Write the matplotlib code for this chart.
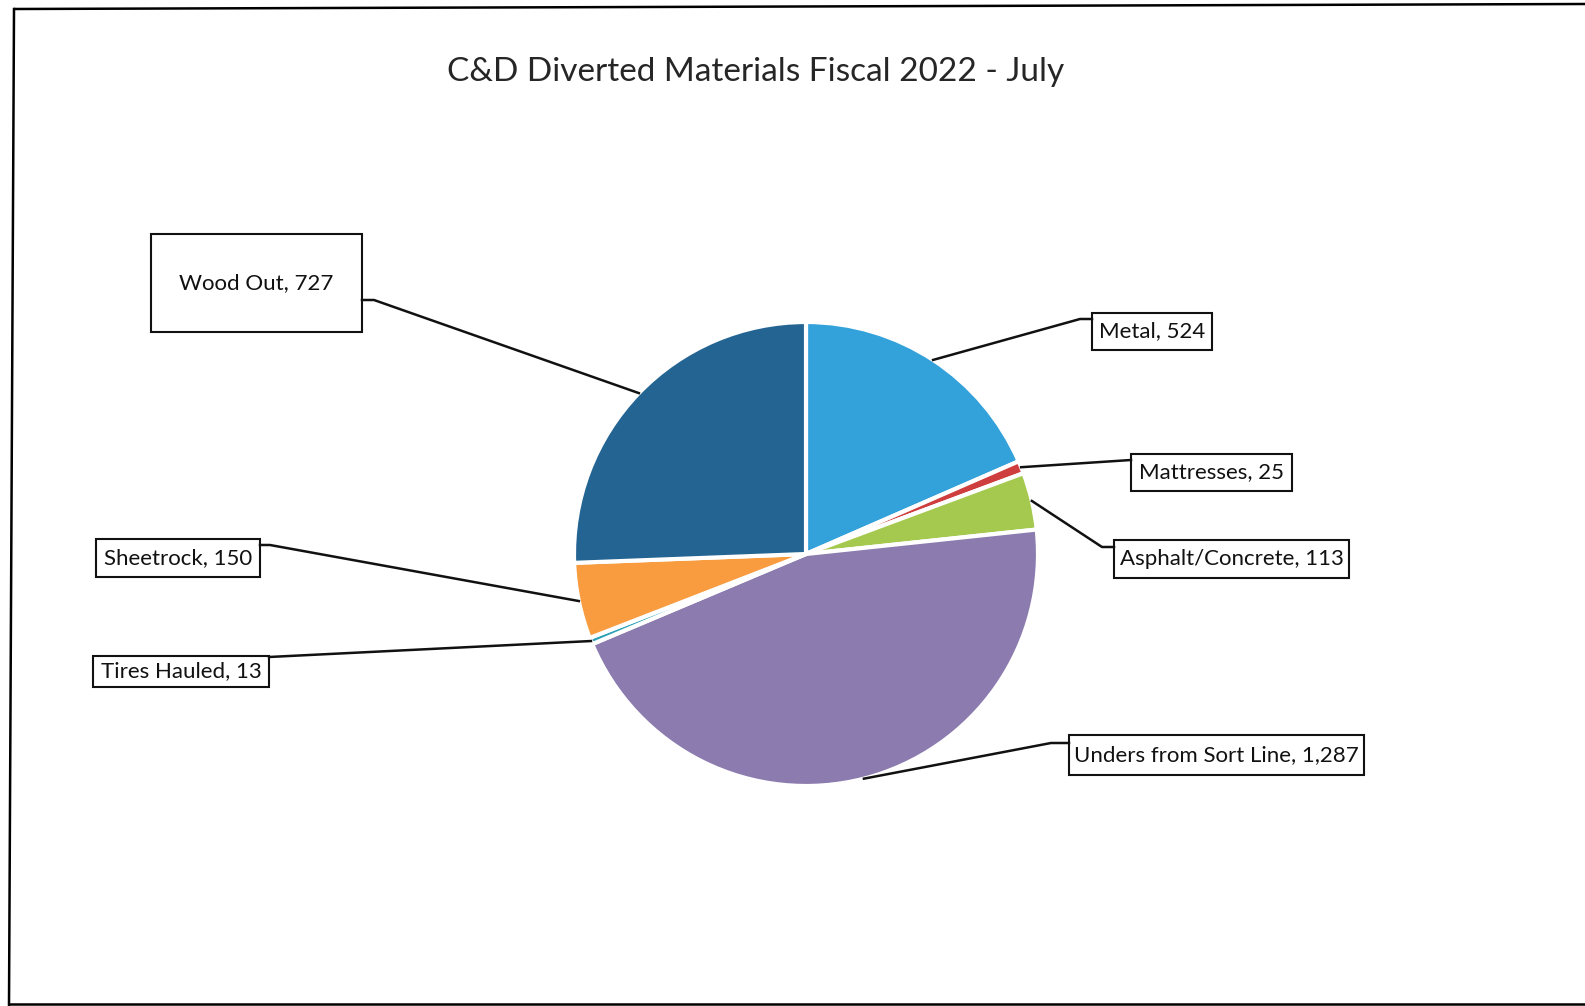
import numpy as np
import matplotlib
matplotlib.use("Agg")
import matplotlib.pyplot as plt
from matplotlib.patches import Rectangle

plt.rcParams['font.family'] = ['Lato', 'DejaVu Sans']

# data
title = "C&D Diverted Materials Fiscal 2022 - July"
materials = ["Metal", "Mattresses", "Asphalt/Concrete", "Unders from Sort Line",
             "Tires Hauled", "Sheetrock", "Wood Out"]
tons = [524, 25, 113, 1287, 13, 150, 727]
colors = ["#33a1da", "#cf3e3e", "#a5c94f", "#8b7bae", "#2ca0b6", "#f89c3f", "#236493"]

# label boxes in pixel layout (x0, y0, x1, y1) and leader elbow points
boxes = [(1092, 313, 1212, 350), (1131, 454, 1292, 491), (1114, 540, 1349, 578),
         (1069, 735, 1364, 775), (93, 656, 269, 687), (96, 539, 260, 577),
         (151, 234, 362, 332)]
elbows = [[(1080, 319), (1092, 319)], [(1131, 460)], [(1102, 547), (1114, 547)],
          [(1051, 743), (1069, 743)], [(269, 657)], [(270, 545), (260, 545)],
          [(374, 300), (362, 300)]]

W, H = 1585, 1006
fig = plt.figure(figsize=(W / 100, H / 100), dpi=100)
ax = fig.add_axes([0, 0, 1, 1])

cx, cy, r = 806, 554, 232
wedges, _ = ax.pie(tons, colors=colors, startangle=-90, counterclock=True,
                   center=(cx, cy), radius=r, frame=True,
                   wedgeprops=dict(edgecolor="white", linewidth=3))
ax.set_xlim(0, W)
ax.set_ylim(H, 0)
ax.set_aspect("equal")
ax.axis("off")

# outer frame from the scanned page
ax.plot([14, W], [9, 4], color="black", lw=1.8, solid_capstyle="butt")
ax.plot([14, 9], [9, 1005], color="black", lw=1.8)
ax.plot([9, W], [1004, 1004], color="black", lw=1.8)

ax.text(756, 72, title, ha="center", va="center", fontsize=24, color="#262626")

for w, name, val, box, elb in zip(wedges, materials, tons, boxes, elbows):
    mid = np.deg2rad((w.theta1 + w.theta2) / 2)
    start = (cx + r * np.cos(mid), cy + r * np.sin(mid))
    pts = [start] + elb
    ax.plot([p[0] for p in pts], [p[1] for p in pts], color="#111111", lw=1.8)
    x0, y0, x1, y1 = box
    ax.add_patch(Rectangle((x0, y0), x1 - x0, y1 - y0, facecolor="white",
                           edgecolor="#111111", lw=1.5))
    ax.text((x0 + x1) / 2, (y0 + y1) / 2, f"{name}, {val:,}", ha="center",
            va="center", fontsize=16, color="#111111")

fig.savefig("out.png", dpi=100)
